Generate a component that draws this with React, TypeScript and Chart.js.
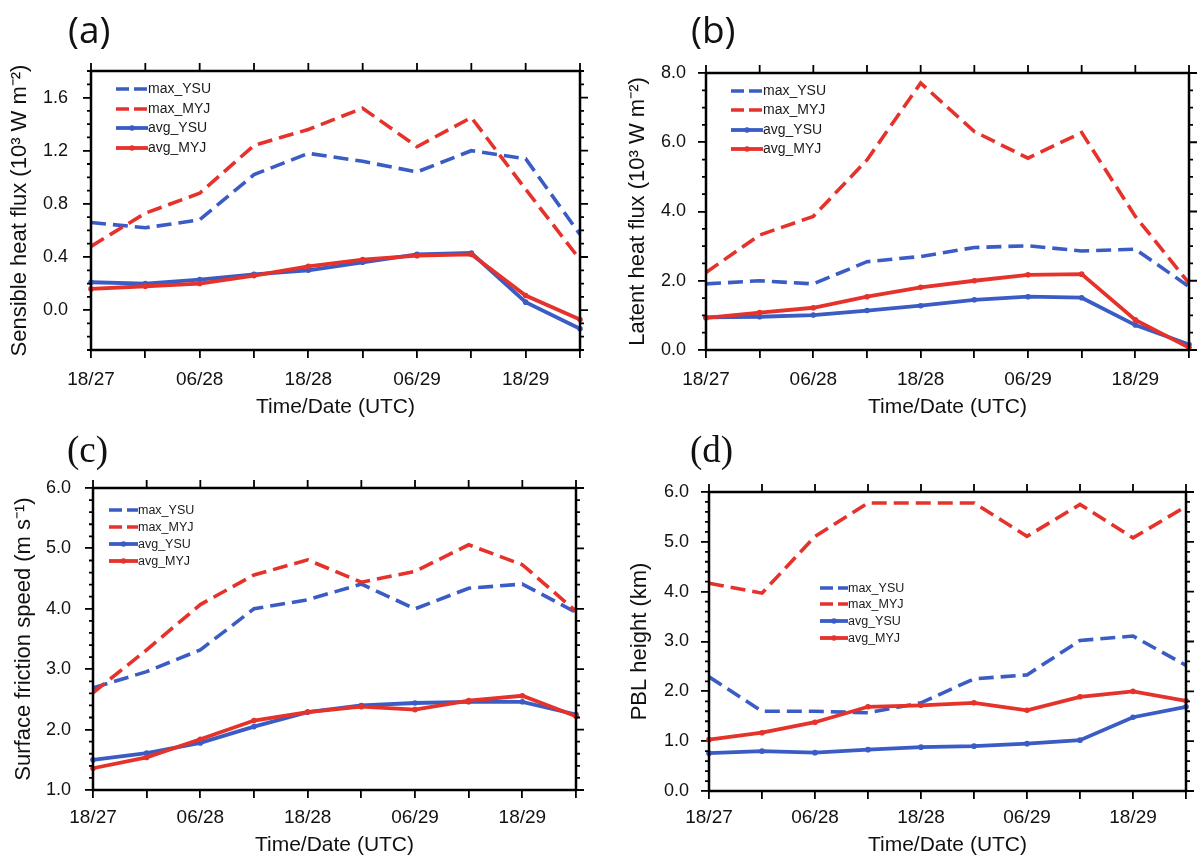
import React, { useEffect, useRef } from "react";
import { Chart, registerables } from "chart.js";
Chart.register(...registerables);

// ---------- data ----------
const timeLabels = ["18/27", "00/28", "06/28", "12/28", "18/28", "00/29", "06/29", "12/29", "18/29", "00/30"];
const shownLabels = ["18/27", "06/28", "18/28", "06/29", "18/29"];
const seriesNames = ["max_YSU", "max_MYJ", "avg_YSU", "avg_MYJ"];

// (a) Sensible heat flux (10^3 W m^-2)
const shfMaxYSU = [0.66, 0.62, 0.68, 1.02, 1.18, 1.12, 1.04, 1.2, 1.14, 0.57];
const shfMaxMYJ = [0.48, 0.73, 0.88, 1.24, 1.36, 1.52, 1.23, 1.45, 0.91, 0.38];
const shfAvgYSU = [0.21, 0.2, 0.23, 0.27, 0.3, 0.36, 0.42, 0.43, 0.06, -0.14];
const shfAvgMYJ = [0.16, 0.18, 0.2, 0.26, 0.33, 0.38, 0.41, 0.42, 0.11, -0.07];
const shfTicks = [0.0, 0.4, 0.8, 1.2, 1.6];

// (b) Latent heat flux (10^3 W m^-2)
const lhfMaxYSU = [1.91, 2.0, 1.91, 2.55, 2.7, 2.96, 3.01, 2.86, 2.91, 1.83];
const lhfMaxMYJ = [2.24, 3.32, 3.86, 5.49, 7.71, 6.31, 5.54, 6.28, 3.86, 1.93];
const lhfAvgYSU = [0.94, 0.96, 1.01, 1.14, 1.28, 1.45, 1.54, 1.51, 0.72, 0.16];
const lhfAvgMYJ = [0.93, 1.08, 1.22, 1.54, 1.81, 2.0, 2.17, 2.19, 0.87, 0.07];
const lhfTicks = [0.0, 2.0, 4.0, 6.0, 8.0];

// (c) Surface friction speed (m s^-1)
const ustMaxYSU = [2.69, 2.96, 3.32, 4.0, 4.15, 4.41, 4.0, 4.34, 4.41, 3.94];
const ustMaxMYJ = [2.61, 3.32, 4.07, 4.56, 4.81, 4.44, 4.62, 5.06, 4.73, 3.96];
const ustAvgYSU = [1.5, 1.61, 1.78, 2.05, 2.29, 2.4, 2.44, 2.46, 2.46, 2.25];
const ustAvgMYJ = [1.36, 1.54, 1.84, 2.15, 2.29, 2.38, 2.33, 2.48, 2.56, 2.22];
const ustTicks = [1.0, 2.0, 3.0, 4.0, 5.0, 6.0];

// (d) PBL height (km)
const pblMaxYSU = [2.29, 1.6, 1.6, 1.57, 1.77, 2.25, 2.33, 3.02, 3.11, 2.52];
const pblMaxMYJ = [4.17, 3.97, 5.11, 5.78, 5.78, 5.78, 5.11, 5.75, 5.08, 5.71];
const pblAvgYSU = [0.76, 0.8, 0.77, 0.83, 0.88, 0.9, 0.95, 1.02, 1.48, 1.69];
const pblAvgMYJ = [1.03, 1.17, 1.38, 1.69, 1.72, 1.77, 1.62, 1.89, 2.0, 1.81];
const pblTicks = [0.0, 1.0, 2.0, 3.0, 4.0, 5.0, 6.0];

// ---------- styling ----------
const BLUE = "#3a5cc4";
const RED = "#e5322b";
const FONT = "'Liberation Sans', Arial, Helvetica, sans-serif";

type PanelDef = {
  letter: string;
  letterFont: string;
  letterPos: { x: number; y: number };
  left: number; top: number; w: number; h: number;
  area: { l: number; t: number; r: number; b: number };
  yMin: number; yMax: number; yTicks: number[]; minor: number;
  yTitle: string;
  series: number[][];
  legend: { x1: number; x2: number; rows: number[]; font: number };
  xTickPad: number; yTickPad: number; xTitlePad: number; yTitlePad: number;
};

const panels: PanelDef[] = [
  {
    letter: "(a)", letterFont: "'Open Sans', sans-serif", letterPos: { x: 68, y: 6 },
    left: 0, top: 0, w: 600, h: 430,
    area: { l: 91, t: 71, r: 580, b: 350 },
    yMin: -0.3, yMax: 1.8, yTicks: shfTicks, minor: 0.1,
    yTitle: "Sensible heat flux (10\u00b3 W m\u207b\u00b2)",
    series: [shfMaxYSU, shfMaxMYJ, shfAvgYSU, shfAvgMYJ],
    legend: { x1: 116, x2: 148, rows: [89, 109, 128, 148], font: 14 },
    xTickPad: 10, yTickPad: 15, xTitlePad: 10, yTitlePad: 7,
  },
  {
    letter: "(b)", letterFont: "'Open Sans', sans-serif", letterPos: { x: 691, y: 6 },
    left: 600, top: 0, w: 602, h: 430,
    area: { l: 106, t: 73, r: 589, b: 350 },
    yMin: 0, yMax: 8, yTicks: lhfTicks, minor: 0.5,
    yTitle: "Latent heat flux (10\u00b3 W m\u207b\u00b2)",
    series: [lhfMaxYSU, lhfMaxMYJ, lhfAvgYSU, lhfAvgMYJ],
    legend: { x1: 131, x2: 163, rows: [91, 110, 130, 149], font: 14 },
    xTickPad: 10, yTickPad: 12, xTitlePad: 10, yTitlePad: 25,
  },
  {
    letter: "(c)", letterFont: "'Liberation Serif', 'Times New Roman', serif", letterPos: { x: 67, y: 427 },
    left: 0, top: 430, w: 600, h: 433,
    area: { l: 93, t: 58, r: 576, b: 360 },
    yMin: 1, yMax: 6, yTicks: ustTicks, minor: 0.2,
    yTitle: "Surface friction speed (m s\u207b\u00b9)",
    series: [ustMaxYSU, ustMaxMYJ, ustAvgYSU, ustAvgMYJ],
    legend: { x1: 109, x2: 138, rows: [80, 97, 114, 131], font: 12.5 },
    xTickPad: 8, yTickPad: 14, xTitlePad: 5, yTitlePad: 11,
  },
  {
    letter: "(d)", letterFont: "'Liberation Serif', 'Times New Roman', serif", letterPos: { x: 690, y: 427 },
    left: 600, top: 430, w: 602, h: 433,
    area: { l: 109, t: 62, r: 586, b: 361 },
    yMin: 0, yMax: 6, yTicks: pblTicks, minor: 0.2,
    yTitle: "PBL height (km)",
    series: [pblMaxYSU, pblMaxMYJ, pblAvgYSU, pblAvgMYJ],
    legend: { x1: 220, x2: 248, rows: [158, 174, 191, 208], font: 12.5 },
    xTickPad: 7, yTickPad: 12, xTitlePad: 5, yTitlePad: 27,
  },
];

const framePlugin = {
  id: "frameTicks",
  afterDraw(chart: any, _args: any, opts: any) {
    const { ctx, chartArea: a, scales } = chart;
    const x = scales.x;
    const y = scales.y;
    ctx.save();
    ctx.strokeStyle = "#000";
    ctx.lineWidth = 1.8;
    ctx.beginPath();
    for (const t of y.ticks) {
      const py = y.getPixelForValue(t.value);
      ctx.moveTo(a.right, py);
      ctx.lineTo(a.right + 8, py);
    }
    for (let i = 0; i < x.ticks.length; i++) {
      const px = x.getPixelForTick(i);
      ctx.moveTo(px, a.top);
      ctx.lineTo(px, a.top - 8);
    }
    const n = Math.round((y.max - y.min) / opts.minor);
    for (let k = 0; k <= n; k++) {
      const v = y.min + k * opts.minor;
      if (y.ticks.some((t: any) => Math.abs(t.value - v) < 1e-6)) continue;
      const py = y.getPixelForValue(v);
      ctx.moveTo(a.left - 4, py);
      ctx.lineTo(a.left, py);
      ctx.moveTo(a.right, py);
      ctx.lineTo(a.right + 4, py);
    }
    ctx.stroke();
    ctx.lineWidth = 2.5;
    ctx.strokeRect(a.left, a.top, a.right - a.left, a.bottom - a.top);

    // legend
    const lg = opts.legend;
    chart.data.datasets.forEach((ds: any, i: number) => {
      const yy = lg.rows[i];
      ctx.beginPath();
      ctx.strokeStyle = ds.borderColor;
      ctx.lineWidth = ds.borderWidth;
      ctx.setLineDash(ds.borderDash && ds.borderDash.length ? [13, 5] : []);
      ctx.moveTo(lg.x1, yy);
      ctx.lineTo(lg.x2, yy);
      ctx.stroke();
      ctx.setLineDash([]);
      if (ds.pointRadius > 0) {
        ctx.beginPath();
        ctx.fillStyle = ds.borderColor;
        ctx.arc((lg.x1 + lg.x2) / 2, yy, ds.pointRadius, 0, Math.PI * 2);
        ctx.fill();
      }
      ctx.fillStyle = "#1a1a1a";
      ctx.font = `${lg.font}px ${FONT}`;
      ctx.textBaseline = "middle";
      ctx.textAlign = "left";
      ctx.fillText(ds.label, lg.x2, yy + 0.5);
    });
    ctx.restore();
  },
};

function Panel({ p }: { p: PanelDef }) {
  const ref = useRef<HTMLCanvasElement>(null);
  useEffect(() => {
    if (!ref.current) return;
    const colors = [BLUE, RED, BLUE, RED];
    const datasets = p.series.map((s, i) => {
      const isMax = i < 2;
      return {
        label: seriesNames[i],
        data: s,
        borderColor: colors[i],
        backgroundColor: colors[i],
        borderWidth: isMax ? 3.6 : 3.8,
        borderDash: isMax ? [15, 7] : [],
        pointRadius: isMax ? 0 : 2.8,
        pointBorderWidth: 0,
        pointBackgroundColor: colors[i],
        tension: 0,
        fill: false,
        order: 4 - i,
      };
    });
    const chart = new Chart(ref.current, {
      type: "line",
      data: { labels: timeLabels, datasets },
      plugins: [framePlugin],
      options: {
        responsive: false,
        animation: false,
        layout: { padding: { top: p.area.t, right: p.w - p.area.r, left: 0, bottom: 0 } },
        plugins: {
          legend: { display: false },
          tooltip: { enabled: false },
          frameTicks: { minor: p.minor, legend: p.legend },
        } as any,
        scales: {
          x: {
            type: "category",
            offset: false,
            afterFit: (s: any) => { s.height = p.h - p.area.b; },
            grid: { display: true, drawOnChartArea: false, drawTicks: true, tickLength: 8, color: "#000", lineWidth: 1.8 },
            border: { display: false },
            ticks: {
              autoSkip: false, maxRotation: 0, minRotation: 0, padding: p.xTickPad,
              color: "#111", font: { family: FONT, size: 19 },
              callback: (_v: any, i: number) => (shownLabels.includes(timeLabels[i]) ? timeLabels[i] : ""),
            },
            title: {
              display: true, text: "Time/Date (UTC)", color: "#111",
              font: { family: FONT, size: 21 }, padding: { top: 0, bottom: p.xTitlePad },
            },
          },
          y: {
            type: "linear",
            min: p.yMin, max: p.yMax,
            afterFit: (s: any) => { s.width = p.area.l; },
            afterBuildTicks: (s: any) => { s.ticks = p.yTicks.map((v) => ({ value: v })); },
            grid: { display: true, drawOnChartArea: false, drawTicks: true, tickLength: 8, color: "#000", lineWidth: 1.8 },
            border: { display: false },
            ticks: {
              padding: p.yTickPad, color: "#111", font: { family: FONT, size: 18 },
              callback: (v: any) => Number(v).toFixed(1),
            },
            title: {
              display: true, text: p.yTitle, color: "#111",
              font: { family: FONT, size: 22 }, padding: { top: p.yTitlePad, bottom: 0 },
            },
          },
        },
      } as any,
    });
    return () => chart.destroy();
  }, [p]);
  return (
    <canvas
      ref={ref}
      width={p.w}
      height={p.h}
      style={{ position: "absolute", left: p.left, top: p.top, width: p.w, height: p.h }}
    />
  );
}

export default function App() {
  return (
    <div style={{ position: "absolute", left: 0, top: 0, width: 1202, height: 863, background: "#fff", overflow: "hidden" }}>
      {panels.map((p) => (
        <Panel key={p.letter} p={p} />
      ))}
      {panels.map((p) => (
        <div
          key={p.letter + "-l"}
          style={{
            position: "absolute", left: p.letterPos.x, top: p.letterPos.y,
            fontFamily: p.letterFont, fontSize: 37, lineHeight: "46px", color: "#111",
          }}
        >
          {p.letter}
        </div>
      ))}
    </div>
  );
}
